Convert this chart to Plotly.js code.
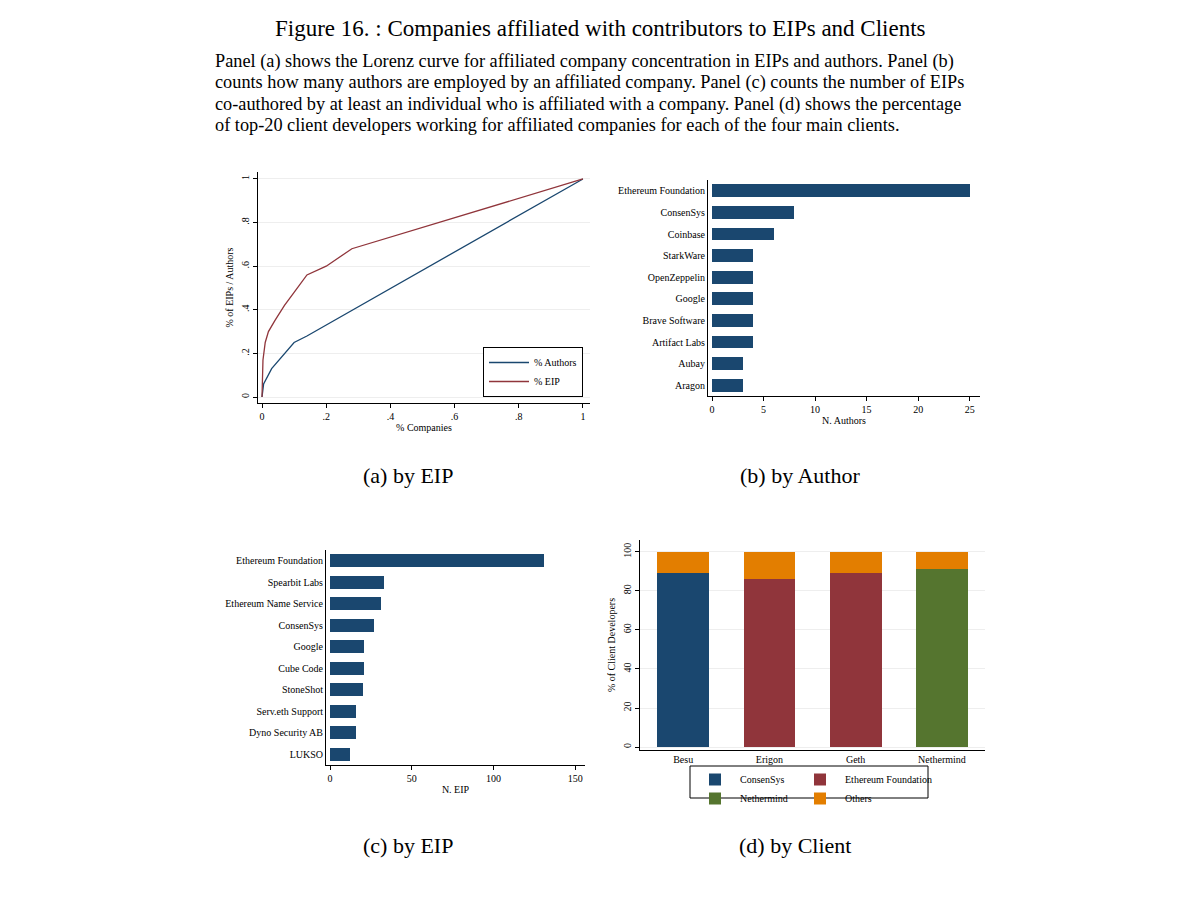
<!DOCTYPE html>
<html><head><meta charset="utf-8">
<script src="https://cdn.plot.ly/plotly-3.0.1.min.js"></script>
<style>body{margin:0;background:#fff}#p{width:1200px;height:908px}</style>
</head><body><div id="p"></div>
<script>
const lorX_eip = [0,0.003,0.01,0.02,0.04,0.07,0.1,0.12,0.14,0.2,0.28,1];
const lorY_eip = [0,0.17,0.25,0.3,0.35,0.42,0.48,0.52,0.56,0.6,0.68,1];
const lorX_auth = [0,0.005,0.03,0.1,0.14,1];
const lorY_auth = [0,0.06,0.13,0.25,0.28,1];
const authCompanies = ["Ethereum Foundation","ConsenSys","Coinbase","StarkWare","OpenZeppelin","Google","Brave Software","Artifact Labs","Aubay","Aragon"];
const authCounts = [25,8,6,4,4,4,4,4,3,3];
const eipCompanies = ["Ethereum Foundation","Spearbit Labs","Ethereum Name Service","ConsenSys","Google","Cube Code","StoneShot","Serv.eth Support","Dyno Security AB","LUKSO"];
const eipCounts = [131,33,31,27,21,21,20,16,16,12];
const clients = ["Besu","Erigon","Geth","Nethermind"];
const consensys = [89,0,0,0];
const ethFound = [0,86,89,0];
const nethermind = [0,0,0,91];
const others = [11,14,11,9];

const F = "Liberation Serif, Times New Roman, serif";
const NAVY="#1a476f", MAROON="#90353b", GREEN="#55752f", ORANGE="#e37e00";
const W=1200,H=908;
const dx=(a,b)=>[a/W,b/W], dy=(top,bot)=>[1-bot/H,1-top/H];

const traces = [
 {x:lorX_auth,y:lorY_auth,type:'scatter',mode:'lines',name:'% Authors',line:{color:NAVY,width:1.3},xaxis:'x',yaxis:'y',legend:'legend'},
 {x:lorX_eip,y:lorY_eip,type:'scatter',mode:'lines',name:'% EIP',line:{color:MAROON,width:1.3},xaxis:'x',yaxis:'y',legend:'legend'},
 {x:authCounts,y:authCompanies,type:'bar',orientation:'h',marker:{color:NAVY},width:0.6,xaxis:'x2',yaxis:'y2',showlegend:false},
 {x:eipCounts,y:eipCompanies,type:'bar',orientation:'h',marker:{color:NAVY},width:0.6,xaxis:'x3',yaxis:'y3',showlegend:false},
 {x:clients,y:consensys,type:'bar',name:'ConsenSys',marker:{color:NAVY},xaxis:'x4',yaxis:'y4',legend:'legend2'},
 {x:clients,y:ethFound,type:'bar',name:'Ethereum Foundation',marker:{color:MAROON},xaxis:'x4',yaxis:'y4',legend:'legend3'},
 {x:clients,y:nethermind,type:'bar',name:'Nethermind',marker:{color:GREEN},xaxis:'x4',yaxis:'y4',legend:'legend2'},
 {x:clients,y:others,type:'bar',name:'Others',marker:{color:ORANGE},xaxis:'x4',yaxis:'y4',legend:'legend3'}
];

const ax = (o)=>Object.assign({showline:true,linecolor:'#000',linewidth:1,ticks:'outside',ticklen:4,tickcolor:'#000',
  tickfont:{family:F,size:10,color:'#000'},zeroline:false,showgrid:false},o);
const leg = (o)=>Object.assign({bgcolor:'rgba(0,0,0,0)',font:{family:F,size:10},tracegroupgap:0,itemwidth:40,traceorder:'normal',
  orientation:'v',borderwidth:0},o);

const layout = {
 width:W,height:H,margin:{l:0,r:0,t:0,b:0},paper_bgcolor:'#fff',plot_bgcolor:'#fff',
 barmode:'stack',bargap:0.4,font:{family:F,color:'#000'},
 xaxis:ax({domain:dx(258,590),range:[-0.0125,1.022],tickvals:[0,.2,.4,.6,.8,1],ticktext:['0','.2','.4','.6','.8','1'],anchor:'y',
   title:{text:'% Companies',font:{family:F,size:10},standoff:2}}),
 yaxis:ax({domain:dy(172,403),range:[-0.0275,1.032],tickvals:[0,.2,.4,.6,.8,1],ticktext:['0','.2','.4','.6','.8','1'],tickangle:-90,anchor:'x',
   showgrid:true,gridcolor:'#eeeeee',title:{text:'% of EIPs / Authors',font:{family:F,size:10},standoff:4}}),
 xaxis2:ax({domain:dx(708,980),range:[-0.39,26],tickvals:[0,5,10,15,20,25],anchor:'y2',
   title:{text:'N. Authors',font:{family:F,size:10},standoff:2}}),
 yaxis2:ax({domain:dy(180,396),autorange:'reversed',categoryorder:'array',categoryarray:authCompanies,anchor:'x2',ticks:''}),
 xaxis3:ax({domain:dx(326,585),range:[-2.45,156],tickvals:[0,50,100,150],anchor:'y3',
   title:{text:'N. EIP',font:{family:F,size:10},standoff:2}}),
 yaxis3:ax({domain:dy(550,765),autorange:'reversed',categoryorder:'array',categoryarray:eipCompanies,anchor:'x3',ticks:''}),
 xaxis4:ax({domain:dx(640,985),anchor:'y4',ticks:''}),
 yaxis4:ax({domain:dy(540,750),range:[-1.5,106],tickvals:[0,20,40,60,80,100],tickangle:-90,anchor:'x4',
   showgrid:true,gridcolor:'#eeeeee',title:{text:'% of Client Developers',font:{family:F,size:10},standoff:4}}),
 legend:leg({x:583/W,y:1-397/H,xanchor:'right',yanchor:'bottom',bgcolor:'#fff',bordercolor:'#000',borderwidth:1}),
 legend2:leg({x:690/W,y:1-765/H,xanchor:'left',yanchor:'top'}),
 legend3:leg({x:795/W,y:1-765/H,xanchor:'left',yanchor:'top'}),
 shapes:[{type:'rect',xref:'paper',yref:'paper',x0:690/W,x1:928/W,y0:1-798/H,y1:1-766/H,line:{color:'#000',width:1}}],
 annotations:[]
};
const A=(t,x,y,size,anchor)=>layout.annotations.push({text:t,x:x/W,y:1-y/H,xref:'paper',yref:'paper',showarrow:false,
  xanchor:anchor||'center',yanchor:'middle',font:{family:F,size:size,color:'#000'}});
A('Figure 16. : Companies affiliated with contributors to EIPs and Clients',600,28,23);
A('Panel (a) shows the Lorenz curve for affiliated company concentration in EIPs and authors. Panel (b)',213,62,18.3,'left');
A('counts how many authors are employed by an affiliated company. Panel (c) counts the number of EIPs',213,83,18.3,'left');
A('co-authored by at least an individual who is affiliated with a company. Panel (d) shows the percentage',213,104,18.3,'left');
A('of top-20 client developers working for affiliated companies for each of the four main clients.',213,125,18.3,'left');
A('(a) by EIP',408,475,22);
A('(b) by Author',800,475,22);
A('(c) by EIP',408,845,22);
A('(d) by Client',795,845,22);
Plotly.newPlot('p',traces,layout,{staticPlot:true});
</script></body></html>
